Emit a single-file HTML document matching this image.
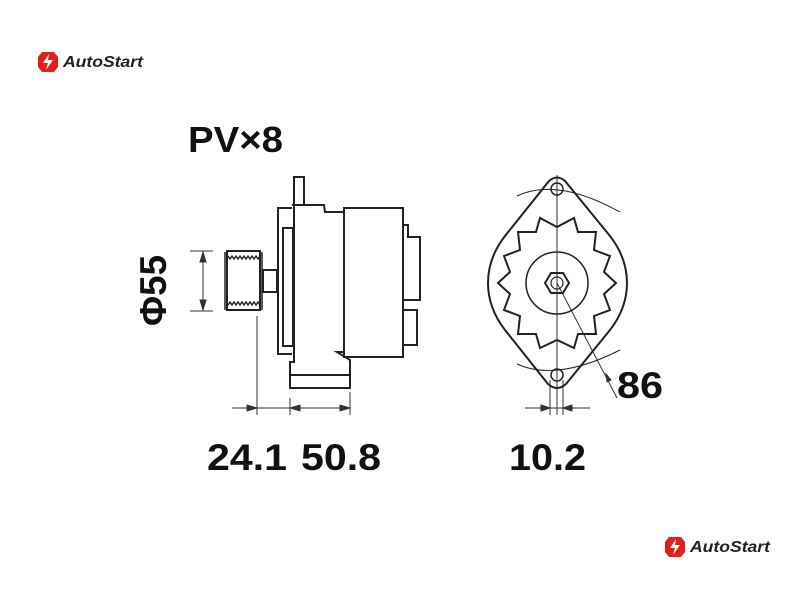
<!DOCTYPE html>
<html><head><meta charset="utf-8"><style>
body{margin:0;background:#fff;width:800px;height:600px;overflow:hidden}
svg{display:block}
text{font-family:"Liberation Sans",sans-serif}
</style></head><body>
<svg width="800" height="600" viewBox="0 0 800 600">
<g transform="translate(38,52)">
 <path d="M4 0 L16 0 L20 5 L20 15 L16 20 L4 20 L0 15 L0 5Z" fill="#e0201c"/>
 <path d="M11 2 L5 11 L10 11 L8 18 L15 8 L10 8Z" fill="#fff"/>
 <text x="25" y="15" font-size="16" font-style="italic" font-weight="bold" fill="#222" textLength="80" lengthAdjust="spacingAndGlyphs">AutoStart</text>
</g>
<g transform="translate(665,537)">
 <path d="M4 0 L16 0 L20 5 L20 15 L16 20 L4 20 L0 15 L0 5Z" fill="#e0201c"/>
 <path d="M11 2 L5 11 L10 11 L8 18 L15 8 L10 8Z" fill="#fff"/>
 <text x="25" y="15" font-size="16" font-style="italic" font-weight="bold" fill="#222" textLength="80" lengthAdjust="spacingAndGlyphs">AutoStart</text>
</g>
<text x="188" y="152" font-size="36" font-weight="bold" fill="#111" textLength="95" lengthAdjust="spacingAndGlyphs">PV×8</text>
<text transform="translate(166,326) rotate(-90)" font-size="37" font-weight="bold" fill="#111" textLength="71" lengthAdjust="spacingAndGlyphs">Φ55</text>
<text x="207" y="470" font-size="37" font-weight="bold" fill="#111" textLength="80" lengthAdjust="spacingAndGlyphs">24.1</text>
<text x="301" y="470" font-size="37" font-weight="bold" fill="#111" textLength="80" lengthAdjust="spacingAndGlyphs">50.8</text>
<text x="509" y="470" font-size="37" font-weight="bold" fill="#111" textLength="77" lengthAdjust="spacingAndGlyphs">10.2</text>
<text x="617" y="398" font-size="37" font-weight="bold" fill="#111" textLength="46" lengthAdjust="spacingAndGlyphs">86</text>
<g fill="none" stroke="#222" stroke-width="2">
 <rect x="294" y="177" width="10" height="28"/>
 <path d="M292 208 L278 208 L278 354 L292 354"/>
 <rect x="283" y="228" width="10" height="118"/>
 <path d="M292 205 L324 205 L325 212 L344 212 L344 208 L403 208 L403 357 L344 357 L344 352 L337 352 L350 360 L350 388 L290 388 L290 362 L294 362 L294 205"/>
 <path d="M344 212 L344 352"/>
 <path d="M291 375 L349 375"/>
 <path d="M403 225 L408 225 L408 237 L420 237 L420 300 L403 300"/>
 <rect x="403" y="310" width="14" height="35"/>
 <rect x="263" y="270" width="14" height="22"/>
 <path d="M227 251 L260 251 L260 310 L227 310 Z"/>
 <path d="M225 252 L225 310 M262 252 L262 310" stroke-width="1.5"/>
</g>
<g stroke="#222" stroke-width="1.4" fill="none">
 <path d="M228 256 l2 3 l2 -3 l2 3 l2 -3 l2 3 l2 -3 l2 3 l2 -3 l2 3 l2 -3 l2 3 l2 -3 l2 3 l2 -3 l2 3 l2 -3"/>
 <path d="M228 305 l2 -3 l2 3 l2 -3 l2 3 l2 -3 l2 3 l2 -3 l2 3 l2 -3 l2 3 l2 -3 l2 3 l2 -3 l2 3 l2 -3 l2 3"/>
</g>
<g stroke="#333" stroke-width="1" fill="#333">
 <line x1="190" y1="251" x2="213" y2="251"/><line x1="190" y1="311" x2="213" y2="311"/>
 <line x1="203" y1="251" x2="203" y2="311"/>
 <path d="M203 252 l-3 10 h6z M203 310 l-3 -10 h6z"/>
 <line x1="257" y1="316" x2="257" y2="415"/>
 <line x1="290" y1="398" x2="290" y2="415"/>
 <line x1="350" y1="392" x2="350" y2="415"/>
 <line x1="232" y1="408" x2="350" y2="408"/>
 <path d="M257 408 l-10 -3 v6z M290 408 l10 -3 v6z M350 408 l-10 -3 v6z"/>
 <line x1="557" y1="175" x2="557" y2="415"/>
 <line x1="550" y1="380" x2="550" y2="415"/>
 <line x1="563" y1="380" x2="563" y2="415"/>
 <line x1="525" y1="408" x2="590" y2="408"/>
 <path d="M550 408 l-9 -3 v6z M563 408 l9 -3 v6z"/>
 <line x1="557" y1="283" x2="617" y2="398"/>
 <path d="M607 382 l-1 -8 l5 6z"/>
</g>
<g fill="none" stroke="#222" stroke-width="1">
 <path d="M517 196 Q557 177 620 212"/>
 <path d="M517 364 Q557 382 620 350"/>
</g>
<g fill="none" stroke="#222" stroke-width="2">
 <path d="M549 181 Q557 174 565 181 L610 236 Q627 258 627 283 Q627 308 610 330 L566 384 Q557 392 548 384 L505 330 Q488 308 488 283 Q488 258 505 236 Z"/>
 <path d="M557 227 L574 218 L578 232 L596 232 L594 250 L610 256 L604 272 L616 283 L604 294 L610 310 L594 316 L596 334 L578 334 L574 348 L557 340 L540 348 L536 334 L518 334 L520 316 L504 310 L510 294 L498 283 L510 272 L504 256 L520 250 L518 232 L536 232 L540 218 Z"/>
 <circle cx="557" cy="283" r="31" stroke-width="1.5"/>
 <path d="M545 283 L551 273 L563 273 L569 283 L563 293 L551 293Z"/>
 <circle cx="557" cy="283" r="6" stroke-width="1.2"/>
 <circle cx="557" cy="189" r="6" stroke-width="1.5"/>
 <circle cx="557" cy="375" r="6" stroke-width="1.5"/>
</g>
</svg>
</body></html>
